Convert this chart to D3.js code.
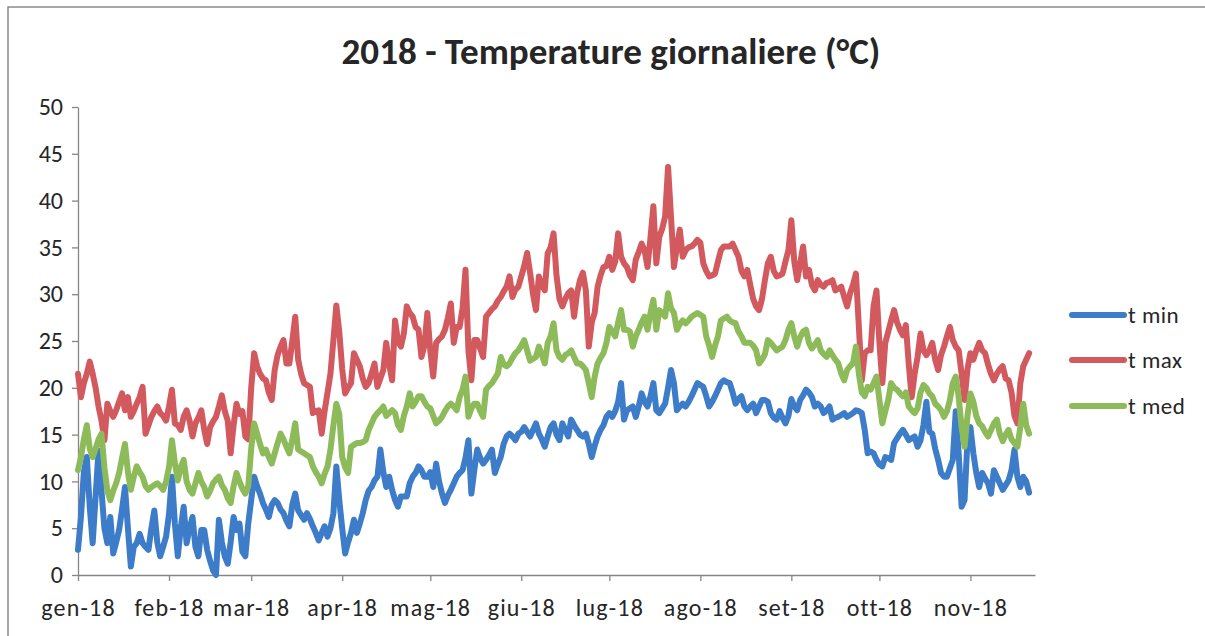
<!DOCTYPE html>
<html><head><meta charset="utf-8">
<script src="https://cdn.jsdelivr.net/npm/d3@7"></script>
<style>body{margin:0;background:#fff;} svg{display:block;}</style>
</head><body>
<svg id="chart" width="1205" height="636"></svg>
<script>
const chartTitle = "2018 - Temperature giornaliere (°C)";
const monthLabels = ["gen-18","feb-18","mar-18","apr-18","mag-18","giu-18","lug-18","ago-18","set-18","ott-18","nov-18"];
const yTickValues = [0,5,10,15,20,25,30,35,40,45,50];
const seriesNames = ["t min","t max","t med"];
const seriesColors = ["#3d7cc8","#d25a5f","#8dbb5a"];

// daily values from 1 Jan 2018
const tmin = [
2.7,6.2,11.0,12.6,7.3,3.4,8.4,13.3,9.0,5.0,
3.4,6.2,2.3,3.5,4.8,7.0,9.4,5.0,0.9,3.0,
3.4,4.4,3.4,3.0,2.7,5.0,6.9,3.5,2.0,3.0,
4.1,6.5,10.5,5.5,2.0,5.0,7.3,3.4,5.0,6.2,
3.0,2.0,4.8,4.8,2.7,1.5,0.5,0.0,5.9,3.5,
2.0,1.2,3.5,6.2,4.8,5.5,2.5,2.0,5.5,8.0,
10.5,9.5,8.7,7.7,7.0,6.2,7.5,8.0,7.7,7.0,
6.6,5.8,5.2,7.5,8.7,6.9,6.4,5.9,6.6,6.0,
5.2,4.5,3.7,4.5,5.2,4.1,5.0,6.6,11.6,8.0,
5.0,2.3,3.5,4.5,5.9,4.5,5.5,6.6,8.0,9.0,
9.4,10.1,10.5,13.4,11.0,9.4,10.5,9.1,8.0,7.3,
8.4,8.4,8.4,9.8,10.5,10.9,11.6,11.2,10.5,10.5,
11.0,9.4,11.9,10.0,8.7,7.7,8.5,9.1,9.8,10.5,
10.9,11.2,12.5,14.4,8.7,11.2,13.4,12.5,11.9,12.3,
12.8,13.4,10.9,11.8,12.6,14.0,14.8,15.1,14.8,14.4,
15.1,15.3,15.8,15.3,14.8,15.5,16.2,15.1,14.5,13.7,
14.8,15.8,16.2,15.0,14.4,16.2,15.5,14.8,16.6,16.0,
15.5,15.0,14.8,15.1,14.0,12.6,13.8,14.8,15.5,16.0,
16.9,17.3,16.9,17.5,18.5,20.5,16.6,17.6,17.8,18.0,
16.9,18.0,19.4,18.5,18.0,19.1,20.5,17.6,17.3,17.8,
18.3,20.0,21.9,20.5,17.6,18.0,18.3,18.0,18.5,19.1,
19.8,20.5,20.3,20.1,19.1,18.0,18.5,19.1,19.8,20.5,
20.8,20.6,20.5,19.5,18.3,18.8,19.1,18.0,17.6,18.0,
18.3,17.3,18.0,18.7,18.7,18.5,17.3,16.8,16.6,17.5,
16.8,16.2,17.0,18.8,18.0,17.6,18.7,19.2,19.8,19.5,
19.0,18.0,18.3,18.0,17.3,17.6,18.0,16.6,16.8,16.9,
17.1,17.3,16.9,17.1,17.3,17.6,17.5,17.3,15.5,13.0,
13.2,13.0,12.3,11.8,11.6,12.6,12.5,12.3,14.1,14.6,
15.1,15.5,15.0,14.4,14.6,14.8,13.7,14.4,16.0,18.5,
15.3,15.1,13.5,12.3,10.9,10.5,10.5,11.4,12.3,17.5,
13.0,7.3,8.0,14.4,15.8,13.0,10.9,9.4,10.9,10.3,
9.8,8.7,11.2,10.5,9.8,9.1,9.6,10.1,11.2,13.4,
10.5,9.4,10.5,10.0,8.8
];
const tmax = [
21.5,19.0,20.5,21.5,22.8,21.5,20.0,18.0,16.5,14.4,
18.3,17.5,16.9,17.6,18.5,19.4,17.6,19.0,16.9,17.5,
18.3,19.0,20.1,15.1,16.0,16.9,17.5,18.0,17.3,17.0,
16.5,18.0,19.8,16.2,16.0,15.5,16.9,17.6,16.5,14.8,
16.2,16.8,17.6,15.5,14.0,15.8,16.4,16.9,18.0,19.2,
17.5,16.5,13.0,16.0,18.3,17.2,17.5,14.8,14.5,20.0,
23.7,22.3,21.5,21.0,20.8,19.5,18.7,21.9,23.5,24.4,
25.1,22.6,22.6,25.0,27.6,23.0,21.5,20.5,20.3,20.1,
17.3,17.5,17.6,15.1,17.5,19.5,21.5,25.1,28.8,26.0,
22.0,19.4,20.0,20.5,23.7,23.0,22.3,21.0,20.1,20.5,
21.5,22.6,20.1,21.0,21.9,24.8,22.5,20.8,27.2,25.0,
24.4,25.8,28.7,28.0,27.6,26.5,26.2,23.3,24.5,28.0,
24.0,21.2,24.8,25.2,25.5,26.2,27.5,29.0,24.8,26.5,
26.5,28.5,32.6,24.0,20.8,25.1,25.1,24.2,23.3,27.6,
28.0,28.4,28.7,29.3,29.7,30.3,30.8,31.9,29.7,30.5,
30.8,31.9,33.0,34.4,32.3,30.0,28.3,31.9,31.0,30.4,
34.4,35.0,36.5,32.0,29.5,28.7,29.5,30.1,30.4,27.6,
30.1,31.5,32.3,30.4,24.4,27.0,28.0,30.8,32.0,32.9,
33.0,34.0,32.6,33.5,36.5,34.0,33.3,32.9,32.0,31.5,
33.7,34.5,35.4,34.7,32.9,36.0,39.4,33.3,36.1,37.0,
38.3,43.6,38.3,32.9,35.0,36.9,34.0,34.7,35.0,35.1,
35.4,35.8,35.5,33.3,32.5,31.9,32.0,32.2,33.5,34.7,
35.1,35.1,35.1,35.4,34.7,34.0,32.5,31.9,32.6,31.0,
29.5,28.7,28.3,29.5,31.5,33.3,34.0,32.5,31.9,32.0,
32.2,33.5,34.7,37.9,33.5,31.5,33.3,35.1,31.9,32.6,
31.0,30.4,31.5,31.0,30.8,31.2,31.3,31.5,30.4,30.6,
30.8,29.7,28.7,30.1,31.0,32.2,26.5,20.8,23.7,24.0,
24.0,28.7,30.4,24.8,20.5,24.8,26.0,27.2,28.3,27.0,
26.2,25.6,26.7,22.5,19.0,21.5,23.3,25.8,24.0,23.5,
24.0,24.8,23.0,21.9,23.5,24.4,25.5,26.5,25.1,24.4,
24.0,21.5,18.7,22.0,23.7,23.0,24.0,24.8,24.0,23.7,
22.5,21.5,20.8,21.5,22.0,22.3,21.0,20.8,19.5,17.0,
16.2,20.5,22.3,23.0,23.7
];
const tmed = [
11.2,12.6,14.5,16.0,13.5,12.6,13.5,14.5,15.1,11.5,
9.0,8.0,9.0,9.8,10.9,12.5,14.0,11.0,9.1,10.5,
11.6,11.0,10.5,9.5,9.1,9.4,9.6,9.8,9.5,9.1,
10.0,11.5,14.4,12.0,10.1,11.5,12.3,10.0,9.1,8.7,
9.8,10.9,10.0,9.4,8.4,9.0,9.8,10.2,10.5,9.6,
9.1,8.2,7.7,9.5,10.9,10.0,9.2,8.7,9.5,13.5,
16.2,15.1,14.0,13.0,13.4,12.6,11.9,13.0,14.1,15.1,
14.5,13.7,13.0,14.5,16.2,13.4,13.2,13.0,12.8,12.6,
11.6,11.0,10.5,9.8,10.8,11.6,13.4,16.0,18.3,17.2,
12.6,11.5,10.9,13.7,13.9,14.1,14.1,14.2,14.4,15.5,
16.2,16.9,17.3,17.6,18.0,17.0,17.3,17.6,17.3,16.0,
15.5,17.0,18.0,19.4,18.0,18.5,19.1,19.1,18.5,18.0,
17.8,17.0,16.2,16.5,16.9,17.5,18.0,18.3,18.0,17.6,
19.0,19.8,21.2,16.9,17.8,18.3,18.3,17.5,16.9,19.8,
20.2,20.5,21.0,21.5,23.3,22.5,22.3,22.6,23.2,23.7,
24.0,24.5,25.1,24.0,22.9,23.1,23.3,24.4,23.5,22.6,
24.8,25.5,26.9,24.0,23.3,23.0,23.5,23.7,24.0,23.3,
22.6,22.6,22.3,21.9,20.5,19.0,21.2,22.6,23.2,23.7,
24.8,26.5,26.0,25.5,27.0,28.3,26.2,26.2,26.0,24.4,
25.5,26.2,27.0,27.6,26.2,28.0,29.4,26.2,28.3,28.0,
27.6,30.1,28.5,28.0,26.2,26.8,27.2,26.9,27.2,27.6,
27.8,28.0,27.8,27.6,25.5,24.5,23.3,24.5,25.5,27.2,
27.4,27.6,27.2,27.0,26.9,26.0,25.5,24.8,24.8,24.8,
24.5,24.0,22.6,23.0,23.6,25.1,24.8,24.4,24.0,24.2,
24.4,25.1,26.2,26.9,25.5,24.4,25.4,26.0,26.2,24.8,
24.2,24.6,25.1,24.0,23.6,23.3,24.0,23.5,23.0,22.6,
21.5,20.8,21.9,22.3,22.6,24.4,21.5,19.5,19.1,20.1,
19.8,20.5,21.2,18.7,16.2,17.5,18.7,20.5,20.0,19.8,
19.4,19.1,19.5,18.0,17.6,17.3,17.8,19.5,20.3,20.0,
19.4,19.1,18.3,18.0,17.6,16.9,17.5,18.7,20.5,21.2,
19.0,15.8,13.7,17.0,19.4,18.5,17.0,16.2,15.9,15.3,
14.8,15.5,16.2,16.6,15.1,14.3,15.0,15.5,14.5,14.1,
13.7,15.8,18.3,16.0,15.1
];

const FONT = "Carlito, Lato, 'Open Sans', sans-serif";
const svg = d3.select("#chart");
const start = new Date(Date.UTC(2018, 0, 1));
const dayOf = i => d3.utcDay.offset(start, i);

const x = d3.scaleUtc().domain([start, dayOf(326)]).range([78, 1035]);
const y = d3.scaleLinear().domain([0, 50]).range([575, 107]);

// frame
svg.append("path").attr("d", "M8,636V7H1205").attr("fill", "none")
  .attr("stroke", "#8a8a8a").attr("stroke-width", 1.5);

// title
const t = svg.append("text").text(chartTitle)
  .attr("x", 611).attr("y", 64).attr("text-anchor", "middle")
  .attr("font-family", FONT).attr("font-weight", "bold")
  .attr("font-size", 30).attr("fill", "#262626");
const tw = t.node().getComputedTextLength();
t.attr("font-size", 30 * 539 / tw);

// axes
const monthTicks = d3.utcMonth.range(start, new Date(Date.UTC(2018, 10, 2)));
const xAxis = d3.axisBottom(x).tickValues(monthTicks)
  .tickFormat((d, i) => monthLabels[i]).tickSize(6).tickSizeOuter(0).tickPadding(18);
const yAxis = d3.axisLeft(y).tickValues(yTickValues).tickSize(6).tickSizeOuter(0).tickPadding(9);

const gx = svg.append("g").attr("transform", "translate(0,575)").call(xAxis);
const gy = svg.append("g").attr("transform", "translate(78,0)").call(yAxis);
[gx, gy].forEach(g => {
  g.attr("font-size", null).attr("font-family", null);
  g.select(".domain").attr("stroke", "#868686").attr("stroke-width", 1.3);
  g.selectAll(".tick line").attr("stroke", "#868686").attr("stroke-width", 1.3);
  g.selectAll(".tick text").attr("font-family", FONT).attr("font-size", 24).attr("fill", "#262626");
});
gx.selectAll(".tick text").attr("dy", "0.71em").attr("letter-spacing", "1.2px");

// lines
const series = [tmin, tmax, tmed];
const line = d3.line().x((d, i) => x(dayOf(i))).y(d => y(d));
series.forEach((s, k) => {
  svg.append("path").datum(s).attr("d", line)
    .attr("fill", "none").attr("stroke", seriesColors[k])
    .attr("stroke-width", 6).attr("stroke-linejoin", "round").attr("stroke-linecap", "round");
});

// legend
const legY = [315, 360, 406];
seriesNames.forEach((n, k) => {
  svg.append("line").attr("x1", 1072).attr("x2", 1124).attr("y1", legY[k]).attr("y2", legY[k])
    .attr("stroke", seriesColors[k]).attr("stroke-width", 6).attr("stroke-linecap", "round");
  svg.append("text").text(n).attr("x", 1128).attr("y", legY[k] + 8)
    .attr("font-family", FONT).attr("font-size", 23).attr("letter-spacing", "0.5px").attr("fill", "#262626");
});
</script>
</body></html>
